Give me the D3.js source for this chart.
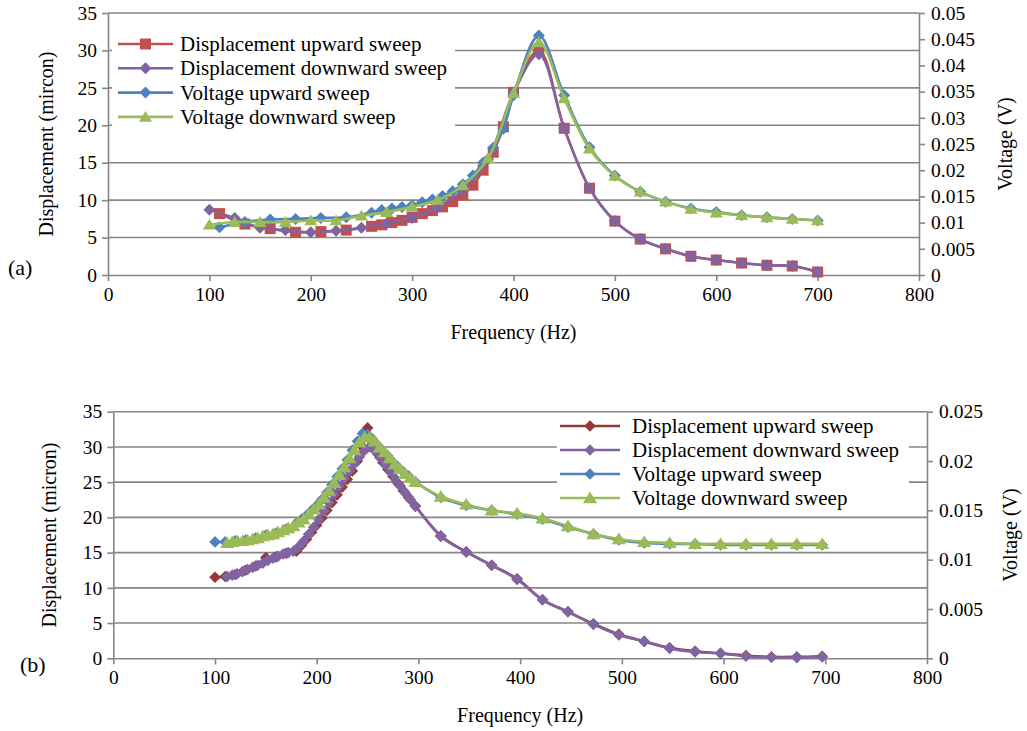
<!DOCTYPE html>
<html>
<head>
<meta charset="utf-8">
<script src="https://cdn.jsdelivr.net/npm/d3@7"></script>
<style>
  body { margin: 0; background: #fff; }
  text { font-family: "Liberation Serif", "Times New Roman", serif; fill: #000; }
</style>
</head>
<body>
<svg id="fig" width="1027" height="731"></svg>
<script>
// ---- chart (a) data ----
const aFreqUp = [110,135,160,185,210,235,260,270,280,290,300,310,320,330,340,350,360,370,380,390,400,425,450,475,500,525,550,575,600,625,650,675,700];
const aDispUp = [8.2,6.8,6.2,5.7,5.8,6.0,6.5,6.7,7.0,7.3,7.7,8.2,8.6,9.1,9.8,10.7,12.0,14.0,16.4,19.8,24.4,30.0,19.6,11.6,7.2,4.8,3.5,2.5,2.0,1.6,1.3,1.2,0.4];
const aVoltUp = [0.0091,0.0101,0.0106,0.0107,0.0109,0.0110,0.0119,0.0124,0.0127,0.0130,0.0133,0.0139,0.0144,0.0151,0.0160,0.0173,0.0190,0.0214,0.0243,0.0279,0.0343,0.0457,0.0343,0.0244,0.0190,0.0159,0.0140,0.0127,0.0120,0.0114,0.0110,0.0107,0.0104];
const aFreqDown = [100,125,150,175,200,225,250,275,300,325,350,375,400,425,450,475,500,525,550,575,600,625,650,675,700];
const aDispDown = [8.7,7.6,6.3,6.0,5.7,5.9,6.3,6.9,7.6,9.0,11.3,15.5,24.3,29.5,19.6,11.6,7.2,4.8,3.5,2.5,2.0,1.6,1.3,1.2,0.4];
const aVoltDown = [0.0096,0.0101,0.0101,0.0101,0.0104,0.0104,0.0113,0.0120,0.0130,0.0143,0.0171,0.0223,0.0347,0.0444,0.0337,0.0241,0.0189,0.0159,0.0140,0.0126,0.0119,0.0114,0.0110,0.0107,0.0104];

// ---- chart (b) data ----
const bFreqUp = [100,110,120,130,140,150,160,170,180,185,190,195,200,205,210,215,220,225,230,235,240,245,250,255,260,265,270,275,280,285,290,297,
  322,347,372,397,422,447,472,497,522,547,572,597,622,647,672,697];
const bDispUp = [11.5,11.6,11.9,12.5,13.1,14.3,14.4,14.9,15.2,16.0,16.9,17.9,18.9,19.9,21.0,22.1,23.2,24.3,25.4,26.6,28.0,30.0,32.7,30.5,29.0,27.8,26.8,25.8,24.8,23.8,22.9,21.6,
  17.4,15.1,13.2,11.3,8.3,6.6,4.9,3.4,2.4,1.5,1.0,0.7,0.4,0.2,0.2,0.3];
const bVoltUp = [0.0118,0.0118,0.0119,0.0120,0.0122,0.0125,0.0127,0.0131,0.0137,0.0141,0.0145,0.0150,0.0155,0.0161,0.0168,0.0176,0.0184,0.0192,0.0201,0.0211,0.0220,0.0228,0.0227,0.0222,0.0216,0.0210,0.0205,0.0199,0.0194,0.0189,0.0185,0.0179,
  0.0163,0.0155,0.0150,0.0146,0.0141,0.0133,0.0126,0.0120,0.0117,0.0116,0.0116,0.0115,0.0115,0.0115,0.0115,0.0115];
const bFreqDown = [112,117,122,127,132,137,142,147,152,157,162,167,172,177,182,187,192,197,202,207,212,217,222,227,232,237,242,247,252,257,262,267,272,277,282,287,292,297,
  322,347,372,397,422,447,472,497,522,547,572,597,622,647,672,697];
const bDispDown = [11.6,11.8,12.0,12.3,12.6,12.9,13.2,13.5,13.9,14.2,14.5,14.8,15.0,15.2,15.8,16.6,17.6,18.6,19.7,20.9,22.1,23.3,24.4,25.5,26.6,27.6,28.6,29.5,30.0,29.5,28.5,27.5,26.5,25.5,24.5,23.5,22.5,21.6,
  17.3,15.1,13.2,11.2,8.3,6.6,4.8,3.3,2.4,1.4,0.9,0.7,0.3,0.15,0.1,0.2];
const bVoltDown = [0.0117,0.0118,0.0119,0.0119,0.0120,0.0121,0.0122,0.0124,0.0125,0.0126,0.0128,0.0130,0.0132,0.0134,0.0138,0.0141,0.0146,0.0151,0.0156,0.0163,0.0170,0.0178,0.0186,0.0194,0.0203,0.0211,0.0219,0.0224,0.0224,0.0220,0.0214,0.0209,0.0203,0.0197,0.0192,0.0187,0.0183,0.0179,
  0.0164,0.0156,0.0150,0.0147,0.0142,0.0134,0.0126,0.0121,0.0118,0.0117,0.0116,0.0116,0.0116,0.0116,0.0116,0.0116];

// ---- ticks / labels ----
const freqTicks = [0,100,200,300,400,500,600,700,800];
const dispTicks = [0,5,10,15,20,25,30,35];
const voltTicksA = [0,0.005,0.01,0.015,0.02,0.025,0.03,0.035,0.04,0.045,0.05];
const voltTicksB = [0,0.005,0.01,0.015,0.02,0.025];
const seriesNames = ["Displacement upward sweep","Displacement downward sweep","Voltage upward sweep","Voltage downward sweep"];

const svg = d3.select("#fig");
const axisGrey = "#868686";
const serif = '"Liberation Serif", "Times New Roman", serif';

function marker(sel, shape, r, color) {
  if (shape === "square") {
    sel.append("rect").attr("x", -r).attr("y", -r).attr("width", 2 * r).attr("height", 2 * r).attr("fill", color);
  } else if (shape === "diamond") {
    sel.append("path").attr("d", `M0,${-r}L${r},0L0,${r}L${-r},0Z`).attr("fill", color);
  } else {
    sel.append("path").attr("d", `M0,${-r}L${r * 1.1},${r * 0.8}L${-r * 1.1},${r * 0.8}Z`).attr("fill", color);
  }
}

function drawChart(c) {
  const g = svg.append("g");
  const x = d3.scaleLinear().domain([0, 800]).range([c.left, c.right]);
  const y = d3.scaleLinear().domain([0, 35]).range([c.bottom, c.top]);
  const yv = d3.scaleLinear().domain([0, c.vMax]).range([c.bottom, c.top]);

  // gridlines
  g.selectAll(".grid").data(dispTicks.filter(d => d > 0)).enter().append("line")
    .attr("x1", c.left).attr("x2", c.right)
    .attr("y1", d => y(d)).attr("y2", d => y(d))
    .attr("stroke", axisGrey).attr("stroke-width", 1.6);

  // legend box hides gridlines behind it
  g.append("rect").attr("x", c.legX).attr("y", c.legY).attr("width", c.legW).attr("height", c.legH).attr("fill", "#fff");

  const styleAxis = a => {
    a.selectAll("path, line").attr("stroke", axisGrey).attr("stroke-width", 1.6);
    a.selectAll("text").style("font-size", "19.5px").style("font-family", serif);
  };
  g.append("g").attr("transform", `translate(0,${c.bottom})`)
    .call(d3.axisBottom(x).tickValues(freqTicks).tickSize(6).tickPadding(6).tickSizeOuter(0))
    .call(styleAxis);
  g.append("g").attr("transform", `translate(${c.left},0)`)
    .call(d3.axisLeft(y).tickValues(dispTicks).tickSize(6).tickPadding(5).tickSizeOuter(0))
    .call(styleAxis);
  g.append("g").attr("transform", `translate(${c.right},0)`)
    .call(d3.axisRight(yv).tickValues(c.vTicks).tickFormat(d => String(+d.toFixed(3))).tickSize(6).tickPadding(6).tickSizeOuter(0))
    .call(styleAxis);

  // series
  const series = [
    { f: c.freqUp, v: c.dispUp, s: y, color: c.colors[0], shape: c.shapes[0] },
    { f: c.freqDown, v: c.dispDown, s: y, color: c.colors[1], shape: c.shapes[1] },
    { f: c.freqUp, v: c.voltUp, s: yv, color: c.colors[2], shape: c.shapes[2] },
    { f: c.freqDown, v: c.voltDown, s: yv, color: c.colors[3], shape: c.shapes[3] }
  ];
  series.forEach(sr => {
    const pts = sr.f.map((f, i) => [f, sr.v[i]]);
    const line = d3.line().x(d => x(d[0])).y(d => sr.s(d[1])).curve(d3.curveCatmullRom.alpha(0.5));
    g.append("path").attr("d", line(pts)).attr("fill", "none").attr("stroke", sr.color).attr("stroke-width", 2.6);
    g.selectAll(null).data(pts).enter().append("g")
      .attr("transform", d => `translate(${x(d[0])},${sr.s(d[1])})`)
      .each(function () { marker(d3.select(this), sr.shape, c.markR[sr.shape], sr.color); });
  });

  // legend
  seriesNames.forEach((name, i) => {
    const ly = c.legRow0 + i * c.legStep;
    g.append("line").attr("x1", c.legLineX).attr("x2", c.legLineX + c.legLineW)
      .attr("y1", ly).attr("y2", ly).attr("stroke", c.colors[i]).attr("stroke-width", 2.6);
    const m = g.append("g").attr("transform", `translate(${c.legLineX + c.legLineW / 2},${ly})`);
    marker(m, c.shapes[i], c.markR[c.shapes[i]], c.colors[i]);
    g.append("text").attr("x", c.legTextX).attr("y", ly + 7)
      .style("font-size", "21px").text(name);
  });

  // titles
  g.append("text").attr("x", (c.left + c.right) / 2).attr("y", c.bottom + 64)
    .attr("text-anchor", "middle").style("font-size", "20px").text("Frequency (Hz)");
  g.append("text").attr("transform", `translate(${c.leftTitleX},${(c.top + c.bottom) / 2}) rotate(-90)`)
    .attr("text-anchor", "middle").style("font-size", "20px").text(c.leftTitle);
  g.append("text").attr("transform", `translate(${c.rightTitleX},${(c.top + c.bottom) / 2}) rotate(-90)`)
    .attr("text-anchor", "middle").style("font-size", "20px").text("Voltage (V)");
  g.append("text").attr("x", c.tagX).attr("y", c.tagY).style("font-size", "22px").text(c.tag);
}

drawChart({
  left: 108, right: 919, top: 13, bottom: 275,
  vMax: 0.05, vTicks: voltTicksA,
  freqUp: aFreqUp, dispUp: aDispUp, voltUp: aVoltUp,
  freqDown: aFreqDown, dispDown: aDispDown, voltDown: aVoltDown,
  colors: ["#C0504D", "#8064A2", "#4F81BD", "#9BBB59"],
  shapes: ["square", "diamond", "diamond", "triangle"],
  markR: { square: 5.5, diamond: 6, triangle: 6 },
  legX: 112, legY: 28, legW: 343, legH: 104,
  legLineX: 118, legLineW: 55, legTextX: 180, legRow0: 44, legStep: 24.3,
  leftTitle: "Displacement (mircon)", leftTitleX: 53, rightTitleX: 1012,
  tag: "(a)", tagX: 8, tagY: 275
});

drawChart({
  left: 113.3, right: 927, top: 411.7, bottom: 658.3,
  vMax: 0.025, vTicks: voltTicksB,
  freqUp: bFreqUp, dispUp: bDispUp, voltUp: bVoltUp,
  freqDown: bFreqDown, dispDown: bDispDown, voltDown: bVoltDown,
  colors: ["#953735", "#8064A2", "#4F81BD", "#9BBB59"],
  shapes: ["diamond", "diamond", "diamond", "triangle"],
  markR: { square: 5, diamond: 5.8, triangle: 6.5 },
  legX: 557, legY: 414, legW: 352, legH: 98,
  legLineX: 560, legLineW: 60, legTextX: 632, legRow0: 426, legStep: 24,
  leftTitle: "Displacement (micron)", leftTitleX: 56, rightTitleX: 1017,
  tag: "(b)", tagX: 20, tagY: 672
});
</script>
</body>
</html>
